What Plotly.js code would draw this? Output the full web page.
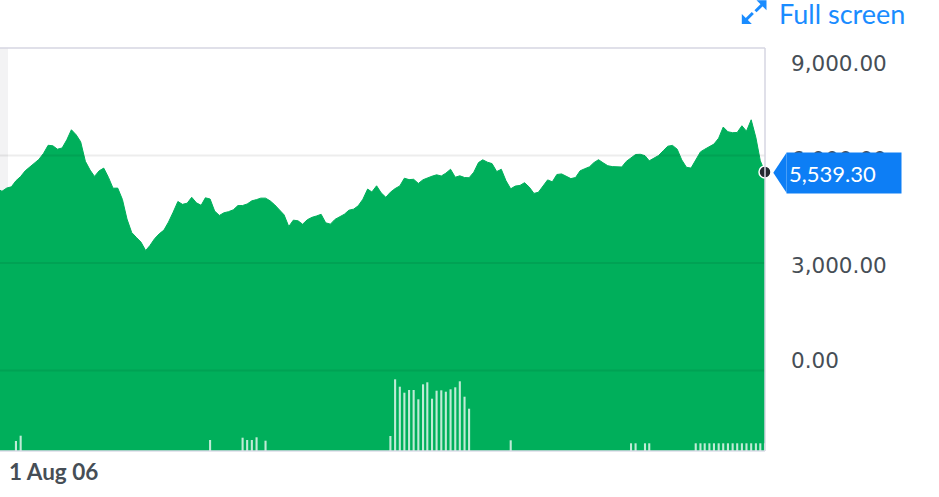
<!DOCTYPE html>
<html>
<head>
<meta charset="utf-8">
<script src="https://cdn.plot.ly/plotly-3.0.1.min.js"></script>
<style>
html,body{margin:0;padding:0;background:#fff;}
#chart{width:939px;height:497px;}
</style>
</head>
<body>
<div id="chart"></div>
<script>
// ---- DATA ----
// Monthly closing values, first month = June 2006
const startYear = 2006, startMonth = 6;
const closeValues = [
  5069, 4999, 5089, 5125, 5293, 5413, 5572, 5689, 5790, 5890, 6061, 6284,
  6270, 6175, 6209, 6438, 6717, 6578, 6382, 5837, 5592, 5416,
  5572, 5647, 5388, 5086, 5089, 4770, 4226, 3849, 3715, 3581,
  3346, 3486, 3678, 3812, 3916, 4139, 4416, 4715, 4636, 4667,
  4832, 4678, 4608, 4818, 4784, 4449, 4326, 4399, 4432, 4483,
  4600, 4603, 4645, 4734, 4768, 4809, 4809, 4734, 4620, 4486,
  4343, 4016, 4195, 4175, 4081, 4206, 4273, 4310, 4357, 4120,
  4083, 4215, 4293, 4360, 4472, 4502, 4594, 4779, 5061, 4980,
  5153, 4958, 4832, 4974, 5075, 5150, 5365, 5326, 5335, 5220,
  5323, 5379, 5421, 5460, 5427, 5505, 5614, 5393, 5432, 5385,
  5377, 5533, 5801, 5879, 5812, 5773, 5550, 5614, 5293, 5069,
  5145, 5164, 5240, 5117, 4941, 4972, 5148, 5318, 5265, 5469,
  5485, 5418, 5354, 5385, 5572, 5631, 5684, 5798, 5882, 5795,
  5714, 5689, 5684, 5678, 5835, 5935, 6027, 6033, 5994, 5851,
  5918, 5997, 6131, 6259, 6281, 6175, 5876, 5670, 5647, 5879,
  6100, 6173, 6245, 6318, 6483, 6793, 6661, 6636, 6642, 6829,
  6678, 6996, 6499, 5851, 5539.30
];
const volumeDates = [
  '2006-10-01','2006-11-01','2010-04-01','2010-11-01','2010-12-01','2011-01-01','2011-02-01','2011-04-01',
  '2013-07-01','2013-08-01','2013-09-01','2013-10-01','2013-11-01','2013-12-01','2014-01-01','2014-02-01',
  '2014-03-01','2014-04-01','2014-05-01','2014-06-01','2014-07-01','2014-08-01','2014-09-01','2014-10-01',
  '2014-11-01','2014-12-01','2015-09-01','2017-11-01','2017-12-01','2018-02-01','2018-03-01',
  '2019-01-01','2019-02-01','2019-03-01','2019-04-01','2019-05-01','2019-06-01','2019-07-01','2019-08-01',
  '2019-09-01','2019-10-01','2019-11-01','2019-12-01','2020-01-01','2020-02-01','2020-03-01','2020-04-01'
];
const volumeValues = [
  100, 153, 110, 133, 110, 110, 137, 103,
  150, 717, 643, 583, 610, 610, 517, 667,
  687, 523, 603, 607, 593, 617, 637, 697,
  543, 423, 107, 77, 77, 77, 77,
  77, 77, 77, 77, 77, 77, 77, 77,
  77, 77, 77, 77, 77, 77, 77, 77
];
const yTickValues = [9000, 6000, 3000, 0];
const yTickLabels = ['9,000.00', '6,000.00', '3,000.00', '0.00'];
const lastLabel = '5,539.30';
const xLabel = '1 Aug 06';

// ---- build dates ----
const pad = n => (n < 10 ? '0' + n : '' + n);
const dates = closeValues.map((_, k) => {
  const t = startMonth - 1 + k;
  return (startYear + Math.floor(t / 12)) + '-' + pad(t % 12 + 1) + '-01';
});
const lastDate = dates[dates.length - 1];
const lastValue = closeValues[closeValues.length - 1];

// ---- layout geometry helpers (pixel -> paper) ----
const W = 939, H = 497, ML = 0, MR = 174, MT = 48, MB = 46;
const PW = W - ML - MR, PH = H - MT - MB;
const px = x => (x - ML) / PW;
const py = y => (H - MB - y) / PH;
const yRange = [-2250, 9000];

const GREEN = '#00af5b';
const TEXT = '#464e56';
const BLUE = '#0d7ef5';
const LINK = '#1a8cff';

const traces = [
  { x: dates, y: dates.map(() => -6000), type: 'scatter', mode: 'lines',
    line: { width: 0, color: GREEN }, hoverinfo: 'skip', showlegend: false },
  { x: dates, y: closeValues, type: 'scatter', mode: 'lines', fill: 'tonexty',
    fillcolor: GREEN, line: { width: 1, color: GREEN }, showlegend: false },
  { x: volumeDates, y: volumeValues, type: 'bar', yaxis: 'y2',
    width: 13.8 * 86400000, marker: { color: 'rgba(255,255,255,0.75)', line: { width: 0 } },
    showlegend: false },
  { x: [lastDate], y: [lastValue], type: 'scatter', mode: 'markers', cliponaxis: false,
    marker: { size: 12, color: '#232a31', line: { color: '#ffffff', width: 1.5 } }, showlegend: false }
];

const shapes = [
  // left grey band
  { type: 'rect', xref: 'paper', yref: 'paper', x0: 0, x1: px(8), y0: 0, y1: 1,
    fillcolor: '#f3f3f4', line: { width: 0 }, layer: 'below' },
  // gridlines
  ...[0, 3000, 6000].map(v => ({ type: 'line', xref: 'paper', yref: 'y', x0: 0, x1: 1, y0: v, y1: v,
    line: { color: 'rgba(0,0,0,0.07)', width: 2 }, layer: 'above' })),
  // frame
  { type: 'line', xref: 'paper', yref: 'paper', x0: 0, x1: 1, y0: 1, y1: 1,
    line: { color: '#d6d6e2', width: 1.5 }, layer: 'above' },
  { type: 'line', xref: 'paper', yref: 'paper', x0: 1, x1: 1, y0: 0, y1: 1,
    line: { color: '#d6d6e2', width: 1.5 }, layer: 'above' },
  { type: 'line', xref: 'paper', yref: 'paper', x0: 0, x1: 1, y0: 0, y1: 0,
    line: { color: '#dcdce8', width: 1.5 }, layer: 'above' },
  // tag tip
  { type: 'path', xref: 'paper', yref: 'paper',
    path: 'M ' + px(773.3) + ' ' + py(172.7) + ' L ' + px(786.5) + ' ' + py(152.7) +
          ' L ' + px(786.5) + ' ' + py(192.7) + ' Z',
    fillcolor: BLUE, line: { width: 0 }, layer: 'above' },
  // full screen icon
  { type: 'path', xref: 'paper', yref: 'paper',
    path: 'M ' + px(756.5) + ' ' + py(0.3) + ' L ' + px(766.5) + ' ' + py(0.3) +
          ' L ' + px(766.5) + ' ' + py(10.3) + ' Z',
    fillcolor: LINK, line: { width: 0 } },
  { type: 'line', xref: 'paper', yref: 'paper', x0: px(764), y0: py(2.8), x1: px(755.5), y1: py(11.3),
    line: { color: LINK, width: 3 } },
  { type: 'path', xref: 'paper', yref: 'paper',
    path: 'M ' + px(741.8) + ' ' + py(14) + ' L ' + px(741.8) + ' ' + py(24) +
          ' L ' + px(751.8) + ' ' + py(24) + ' Z',
    fillcolor: LINK, line: { width: 0 } },
  { type: 'line', xref: 'paper', yref: 'paper', x0: px(744.3), y0: py(21.5), x1: px(752.8), y1: py(13),
    line: { color: LINK, width: 3 } }
];

const labelCenters = [63.9, 159, 265.3, 360.5];
const annotations = yTickLabels.map((t, i) => ({
  xref: 'paper', yref: 'paper', x: px(789), y: py(labelCenters[i]), xanchor: 'left', yanchor: 'middle',
  text: t, showarrow: false, font: { family: 'DejaVu Sans', size: 21.5, color: TEXT }
}));
annotations.push({
  xref: 'paper', yref: 'paper', x: px(785.7), y: py(172.7), xanchor: 'left', yanchor: 'middle',
  text: lastLabel, showarrow: false, bgcolor: BLUE, width: 110, height: 36, borderpad: 2,
  align: 'left', valign: 'middle', font: { family: 'Lato', size: 22, color: '#ffffff' }
});
annotations.push({
  xref: 'paper', yref: 'paper', x: px(777), y: py(13.5), xanchor: 'left', yanchor: 'middle',
  text: 'Full screen', showarrow: false, font: { family: 'Lato', size: 27, color: LINK }
});
annotations.push({
  xref: 'paper', yref: 'paper', x: px(7), y: py(471), xanchor: 'left', yanchor: 'middle',
  text: '<b>' + xLabel + '</b>', showarrow: false, font: { family: 'Lato', size: 22.5, color: TEXT }
});

const layout = {
  width: W, height: H,
  margin: { l: ML, r: MR, t: MT, b: MB, pad: 0 },
  paper_bgcolor: '#ffffff', plot_bgcolor: 'rgba(0,0,0,0)',
  showlegend: false,
  xaxis: { type: 'date', range: ['2006-06-18', lastDate], showgrid: false, zeroline: false,
           showline: false, showticklabels: false, ticks: '', fixedrange: true },
  yaxis: { range: yRange, showgrid: false, zeroline: false, showline: false,
           showticklabels: false, ticks: '', fixedrange: true, tickvals: yTickValues },
  yaxis2: { overlaying: 'y', range: [0, 4030], visible: false, fixedrange: true },
  shapes: shapes,
  annotations: annotations
};

Plotly.newPlot('chart', traces, layout, { staticPlot: true, displayModeBar: false });
</script>
</body>
</html>
